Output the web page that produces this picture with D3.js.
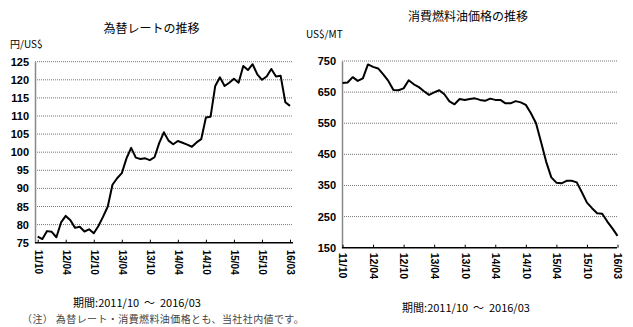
<!DOCTYPE html>
<html><head><meta charset="utf-8">
<script src="https://cdn.jsdelivr.net/npm/d3@7/dist/d3.min.js"></script>
<style>
html,body{margin:0;padding:0;background:#fff;}
svg{display:block;}
text{font-family:"Liberation Sans",Arial,sans-serif;}
.jp{font-family:"Noto Sans CJK JP","Noto Sans CJK SC",sans-serif;}
</style></head>
<body>
<svg id="c" width="633" height="327"></svg>
<script>
const xLabels = ["11/10","12/04","12/10","13/04","13/10","14/04","14/10","15/04","15/10","16/03"];
const fxRate = [76.7,76.0,78.2,78.0,76.5,80.6,82.4,81.2,79.1,79.4,78.1,78.7,77.6,79.6,82.2,85.0,91.0,92.8,94.2,98.3,
101.2,98.5,98.1,98.3,97.8,98.6,102.5,105.5,103.2,102.2,103.1,102.6,102.1,101.5,102.7,103.6,109.6,109.8,118.3,120.7,
118.3,119.2,120.3,119.2,123.8,122.7,124.3,121.5,120.0,120.9,123.0,120.9,121.1,113.8,112.8];
const fuelPrice = [679,681,698,686,694,739,731,726,707,686,657,656,662,688,675,666,653,641,649,656,
643,620,611,628,625,628,630,625,622,629,625,625,614,614,621,617,609,582,550,489,
426,376,359,357,365,365,360,328,295,277,261,259,234,212,188];
const fxTicks = [75,80,85,90,95,100,105,110,115,120,125];
const fuelTicks = [150,250,350,450,550,650,750];

const svg = d3.select("#c");

function chart(o){
  const g = svg.append("g");
  const x = d3.scaleLinear().domain([0, o.data.length-1]).range([o.x0, o.x1]);
  const y = d3.scaleLinear().domain([o.yTicks[0], o.yTicks[o.yTicks.length-1]]).range([o.yb, o.yt]);
  g.selectAll("line.grid").data(o.yTicks.slice(1)).join("line")
    .attr("x1", o.ax).attr("x2", o.gx).attr("y1", d=>y(d)).attr("y2", d=>y(d))
    .attr("stroke","#777").attr("stroke-width",1).attr("stroke-dasharray","1,1");
  const ya = g.append("g").attr("transform",`translate(${o.ax},0)`)
    .call(d3.axisLeft(y).tickValues(o.yTicks).tickSize(0).tickPadding(6));
  ya.select(".domain").attr("stroke","#888").attr("stroke-width",1.5);
  ya.selectAll("text").attr("font-size",11).attr("font-weight","bold").attr("fill","#000")
    .style("font-family","'Liberation Sans',Arial,sans-serif");
  const tickIdx = xLabels.map((d,i)=>i*6);
  const xa = g.append("g").attr("transform",`translate(0,${o.yb})`)
    .call(d3.axisBottom(x).tickValues(tickIdx).tickFormat((d,i)=>xLabels[i]).tickSizeInner(-3).tickSizeOuter(0));
  xa.select(".domain").attr("stroke","#000").attr("stroke-width",1.5).attr("d",`M${o.ax},0H${o.gx}`);
  xa.selectAll(".tick line").attr("stroke","#000");
  xa.selectAll("text").attr("transform","rotate(90)").attr("x",o.xoff).attr("y",0).attr("dy","0.35em")
    .style("text-anchor","start").attr("font-size",o.xfs).attr("font-weight","bold").attr("fill","#000")
    .style("font-family","'Liberation Sans',Arial,sans-serif");
  g.append("path").datum(o.data)
    .attr("d", d3.line().x((d,i)=>x(i)).y(d=>y(d)))
    .attr("fill","none").attr("stroke","#000").attr("stroke-width",2).attr("stroke-linejoin","round");
}

chart({data:fxRate, yTicks:fxTicks, x0:37.7, x1:290, ax:35, gx:293, yb:242.7, yt:61.7, xfs:10, xoff:7});
chart({data:fuelPrice, yTicks:fuelTicks, x0:342.5, x1:617.5, ax:342, gx:617, yb:247.7, yt:61, xfs:10.5, xoff:5});

function txt(s,x,y,fs,anchor,cls,fill,weight,ls){
  svg.append("text").attr("class",cls||"jp").attr("x",x).attr("y",y).attr("font-size",fs)
    .attr("text-anchor",anchor||"middle").attr("dominant-baseline","central")
    .attr("fill",fill||"#000").attr("font-weight",weight||"normal")
    .attr("letter-spacing",ls||0).style("white-space","pre").text(s);
}
txt("為替レートの推移",151.5,27,12,"middle");
txt("円/US$",10,43,10,"start");
txt("消費燃料油価格の推移",468,15,12,"middle");
txt("US$/MT",306,33,10,"start");
txt("期間:2011/10\u00A0\u00A0〜\u00A0\u00A02016/03",137,301.5,11,"middle");
txt("期間:2011/10\u00A0\u00A0〜\u00A0\u00A02016/03",466,306.5,11,"middle");
txt("（注）\u00A0為替レート・消費燃料油価格とも、当社社内値です。",22,318.5,10,"start","jp","#444","normal",0.4);
</script>
</body></html>
